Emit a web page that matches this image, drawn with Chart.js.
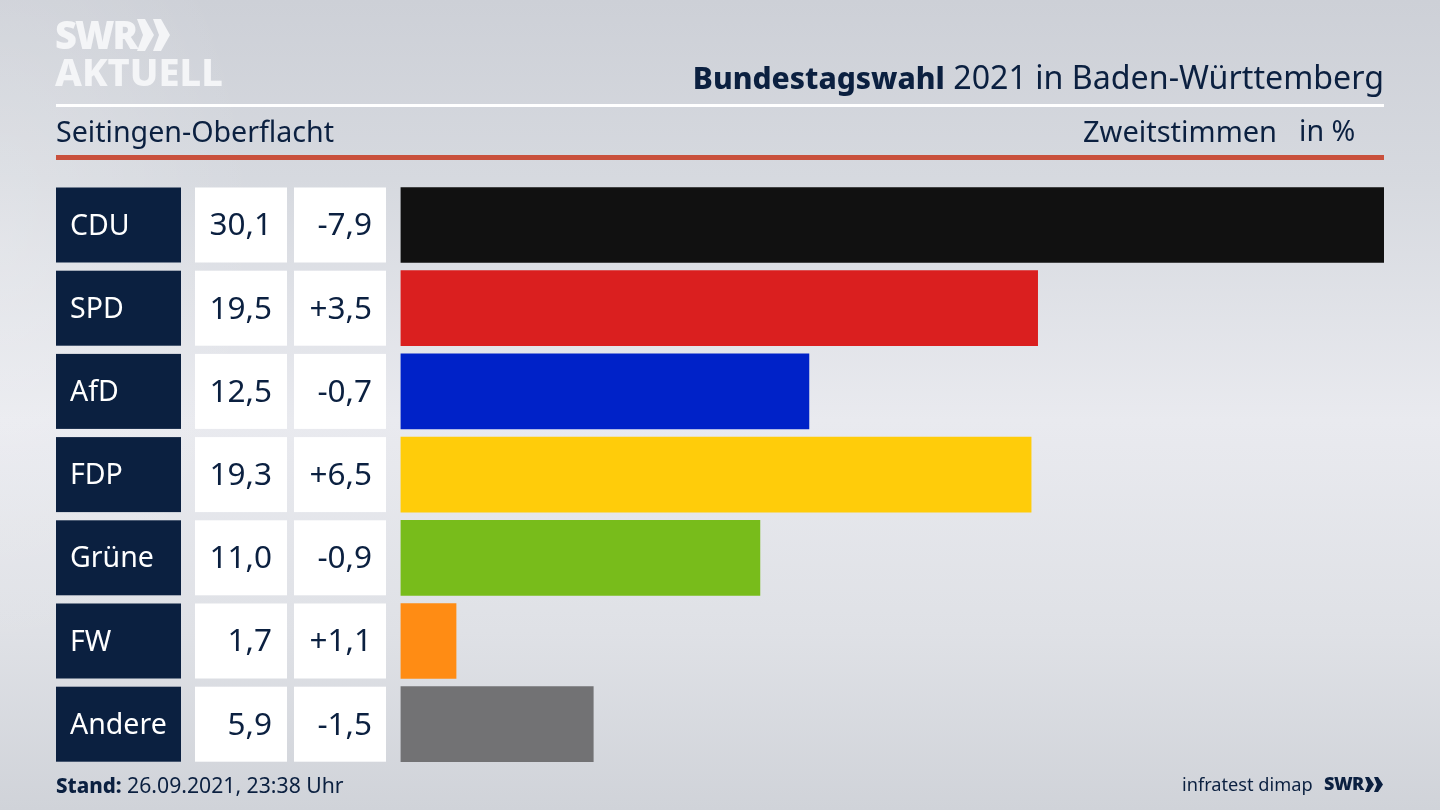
<!DOCTYPE html>
<html lang="de">
<head>
<meta charset="utf-8">
<title>Bundestagswahl 2021 in Baden-Württemberg</title>
<script src="https://cdn.jsdelivr.net/npm/chart.js@4/dist/chart.umd.min.js"></script>
<style>
  html, body { margin: 0; padding: 0; }
  body {
    width: 1440px; height: 810px; overflow: hidden; position: relative;
    background:
      radial-gradient(ellipse 260px 420px at 0 30%, rgba(255,255,255,.22), rgba(255,255,255,0)),
      linear-gradient(180deg, #cdd0d7 0%, #d6d9df 22%, #e9eaef 52%, #dfe1e6 78%, #d0d3d9 100%);
    font-family: "Noto Sans", sans-serif; color: #0b2040;
  }
  #grafico { position: absolute; left: 0; top: 0; }
  .txt { position: absolute; white-space: nowrap; line-height: 1; }
  .linha { position: absolute; left: 56px; width: 1328px; }
  #logo1 { left: 55px; top: 15px; font-size: 38px; font-weight: 900; color: #f4f5f7; letter-spacing: -2px; }
  #logo2 { left: 55px; top: 52px; font-size: 38px; font-weight: 800; color: #f4f5f7; }
  #titulo { right: 56px; top: 61px; font-size: 32.2px; }
  #titulo b { font-weight: 800; font-size: 30px; }
  #local { left: 56px; top: 117px; font-size: 28.6px; }
  #voto { left: 1083px; top: 116px; font-size: 29px; }
  #unidade { left: 1299px; top: 116px; font-size: 28.6px; }
  #stand { left: 56px; top: 774px; font-size: 21.2px; }
  #stand b { font-weight: 800; font-size: 20.5px; }
  #instituto { left: 1182px; top: 775px; font-size: 18.2px; }
  #swr { left: 1324px; top: 774px; font-size: 18px; font-weight: 900; letter-spacing: -0.5px; }
  svg { position: absolute; }
</style>
</head>
<body>
<canvas id="grafico" width="1440" height="810"></canvas>

<div class="txt" id="logo1">SWR</div>
<svg style="left:137px;top:19px" width="34" height="32" viewBox="0 0 34 32"><path d="M0 0h8l9 16-9 16H0l6-16zM16 0h8l9 16-9 16h-8l6-16z" fill="#f4f5f7"/></svg>
<div class="txt" id="logo2">AKTUELL</div>
<div class="txt" id="titulo"><b>Bundestagswahl</b> 2021 in Baden-Württemberg</div>
<div class="linha" style="top:104px;height:3px;background:#fff"></div>
<div class="txt" id="local">Seitingen-Oberflacht</div>
<div class="txt" id="voto">Zweitstimmen</div>
<div class="txt" id="unidade">in %</div>
<div class="linha" style="top:155px;height:5px;background:#c9503c"></div>
<div class="txt" id="stand"><b>Stand:</b> 26.09.2021, 23:38 Uhr</div>
<div class="txt" id="instituto">infratest dimap</div>
<div class="txt" id="swr">SWR</div>
<svg style="left:1365px;top:777px" width="19" height="15" viewBox="0 0 19 15"><path d="M0 0h4l5 7.5-5 7.5H0l3-7.5zM9 0h4l5 7.5-5 7.5H9l3-7.5z" fill="#0b2040"/></svg>

<script>
const partidos = ["CDU", "SPD", "AfD", "FDP", "Grüne", "FW", "Andere"];
const valores = [30.1, 19.5, 12.5, 19.3, 11.0, 1.7, 5.9];
const diferencas = ["-7,9", "+3,5", "-0,7", "+6,5", "-0,9", "+1,1", "-1,5"];
const cores = ["#111111", "#da1f1f", "#0022c8", "#ffcc0a", "#78bc1b", "#ff8c14", "#727274"];

// desenha as colunas da tabela à esquerda de cada barra
const tabela = {
  id: "tabela",
  afterDatasetsDraw(chart) {
    const c = chart.ctx;
    const barras = chart.getDatasetMeta(0).data;
    barras.forEach((barra, i) => {
      const topo = barra.y - barra.height / 2;
      c.fillStyle = "#0b2040";
      c.fillRect(56, topo, 125, barra.height);
      c.fillStyle = "#ffffff";
      c.fillRect(195, topo, 92, barra.height);
      c.fillRect(294, topo, 92, barra.height);

      c.font = '28.5px "Noto Sans"';
      c.textBaseline = "middle";
      c.textAlign = "left";
      c.fillStyle = "#ffffff";
      c.fillText(partidos[i], 70, barra.y + 1.5);
      c.textAlign = "right";
      c.fillStyle = "#0b2040";
      c.font = '31.5px "Noto Sans"';
      c.fillText(valores[i].toFixed(1).replace(".", ","), 272, barra.y + 1.5);
      c.fillText(diferencas[i], 372, barra.y + 1.5);
    });
  }
};

new Chart(document.getElementById("grafico"), {
  type: "bar",
  data: {
    labels: partidos,
    datasets: [{
      data: valores,
      backgroundColor: cores,
      borderWidth: 0,
      barThickness: 75
    }]
  },
  options: {
    indexAxis: "y",
    responsive: false,
    animation: false,
    layout: { padding: { left: 400.5, right: 56, top: 183.4, bottom: 44.2 } },
    plugins: { legend: { display: false }, tooltip: { enabled: false } },
    scales: {
      x: { display: false, min: 0, max: 30.1 },
      y: { display: false }
    }
  },
  plugins: [tabela]
});
</script>
</body>
</html>
